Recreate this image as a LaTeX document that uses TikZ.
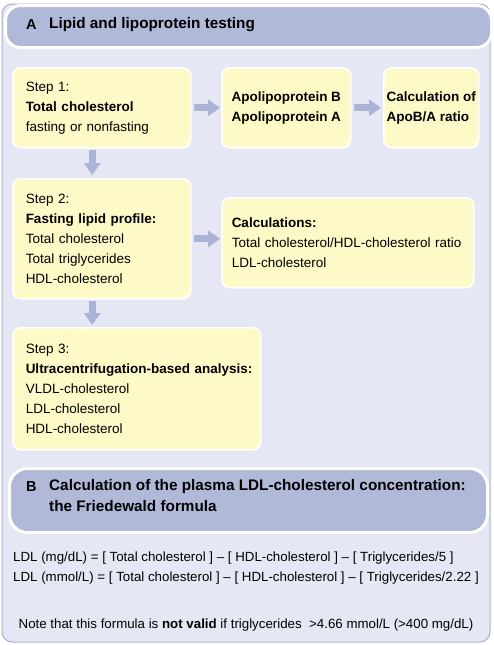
\documentclass[tikz,border=0pt]{standalone}
\usepackage{fontspec}
\setmainfont{Liberation Sans}
\usetikzlibrary{positioning, arrows.meta, calc}
\definecolor{cPanel}    {HTML}{E5E8F4}
\definecolor{cPanelLine}{HTML}{A7B1CD}
\definecolor{cHeader}   {HTML}{B0B9D8}
\definecolor{cArrow}    {HTML}{ABB4D4}
\definecolor{cBox}      {HTML}{FEFAC8}
\tikzset{
  stepbox/.style={draw=white, line width=1.5pt, fill=cBox, rounded corners=8pt,
                  inner sep=0pt, anchor=north west, align=left,
                  font=\fontsize{13.5}{20}\selectfont},
  header/.style={draw=white, line width=3pt, fill=cHeader, anchor=north west},
  letter/.style={inner sep=0pt, anchor=west, font=\fontsize{14.5}{16}\selectfont\bfseries},
  title/.style={inner sep=0pt, anchor=west, align=left,
                font=\fontsize{15.3}{21}\selectfont\bfseries},
  bodytext/.style={inner sep=0pt, align=left, font=\fontsize{13.3}{20}\selectfont},
  flowarrow/.style={draw=cArrow, line width=7pt,
                    -{Triangle[width=17pt, length=12pt, line width=0pt]}},
}
\begin{document}
\begin{tikzpicture}[x=1pt, y=-1pt]
  \useasboundingbox (0,0) rectangle (494,645);
  % panel behind both parts
  \draw[draw=cPanelLine, fill=cPanel, line width=1pt, rounded corners=10pt]
    (2,4) rectangle (490,642);
  % A
  \node[header, rounded corners=15pt, minimum width=486pt, minimum height=42pt]
    (hdrA) at (4,4) {};
  \node[letter] (letA) at (26,25) {A};
  \node[title] (titleA) at (49,25) {Lipid and lipoprotein testing};

  \node[stepbox, minimum width=178pt, minimum height=80pt, text width=152pt]
    (step1) at (12,67) {Step 1:\\\textbf{Total cholesterol}\\fasting or nonfasting};
  \node[stepbox, minimum width=129pt, minimum height=80pt]
    (apoBA) at (221,67) {\textbf{Apolipoprotein B}\\\textbf{Apolipoprotein A}};
  \node[stepbox, minimum width=95pt, minimum height=80pt]
    (ratio) at (383,67) {\textbf{Calculation of}\\\textbf{ApoB/A ratio}};
  \node[stepbox, minimum width=178pt, minimum height=120pt, text width=152pt]
    (step2) at (12,178) {Step 2:\\\textbf{Fasting lipid profile:}\\Total cholesterol\\
      Total triglycerides\\HDL-cholesterol};
  \node[stepbox, minimum width=252pt, minimum height=90pt, text width=232pt]
    (calcs) at (221,197) {\textbf{Calculations:}\\
      \mbox{Total cholesterol/HDL-cholesterol ratio}\\LDL-cholesterol};
  \node[stepbox, minimum width=248pt, minimum height=122pt, text width=222pt]
    (step3) at (12,327) {Step 3:\\\mbox{\textbf{Ultracentrifugation-based analysis:}}\\
      VLDL-cholesterol\\LDL-cholesterol\\HDL-cholesterol};

  \draw[flowarrow, shorten <=2pt, shorten >=1pt] (step1) -- (apoBA);
  \draw[flowarrow, shorten <=2pt, shorten >=2pt] (apoBA) -- (ratio);
  \draw[flowarrow, shorten <=1pt, shorten >=3pt]
    ([xshift=-9.5pt]step1.south) -- ([xshift=-9.5pt]step1.south |- step2.north);
  \draw[flowarrow, shorten <=2pt, shorten >=1pt] (step2.east) -- (step2.east -| calcs.west);
  \draw[flowarrow, shorten <=1pt, shorten >=2pt]
    ([xshift=-9.5pt]step2.south) -- ([xshift=-9.5pt]step2.south |- step3.north);

  % B
  \node[header, rounded corners=18pt, minimum width=478pt, minimum height=64pt]
    (hdrB) at (8,467) {};
  \node[letter] (letB) at (26,487) {B};
  \node[title] (titleB) at (49,496)
    {Calculation of the plasma LDL-cholesterol concentration:\\the Friedewald formula};

  \node[bodytext, anchor=west] (formula) at (13,568)
    {LDL (mg/dL) = [ Total cholesterol ] – [ HDL-cholesterol ] – [ Triglycerides/5 ]\\
     LDL (mmol/L) = [ Total cholesterol ] – [ HDL-cholesterol ] – [ Triglycerides/2.22 ]};
  \node[bodytext] (note) at (246,625)
    {Note that this formula is \textbf{not valid} if triglycerides\ \ >4.66 mmol/L (>400 mg/dL)};
\end{tikzpicture}
\end{document}
